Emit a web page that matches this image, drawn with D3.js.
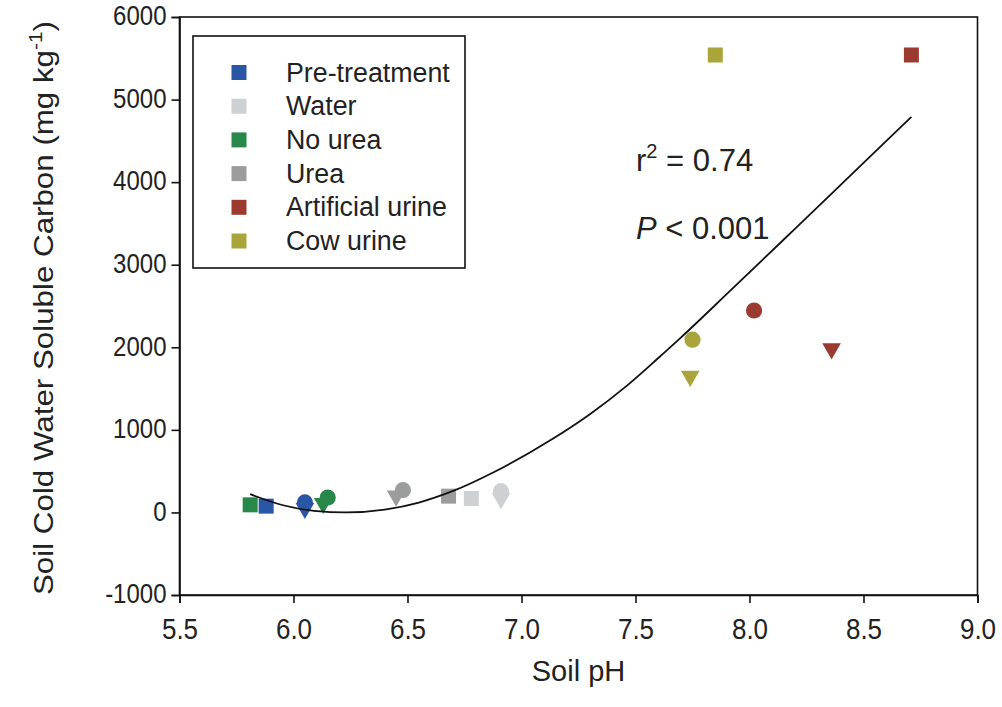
<!DOCTYPE html>
<html>
<head>
<meta charset="utf-8">
<script src="https://cdn.jsdelivr.net/npm/d3@7"></script>
<style>
  body { margin: 0; background: #fff; }
  svg text { font-family: "Liberation Sans", Arial, sans-serif; fill: #222; }
</style>
</head>
<body>
<div id="chart"></div>
<script>
// treatments, in legend order
let treatments = ["Pre-treatment", "Water", "No urea", "Urea", "Artificial urine", "Cow urine"];
let colors = ["#2a57a5", "#cdd1d4", "#27884a", "#9b9d9d", "#9b3b2f", "#a9a53b"];

// square markers
let squarePH = [5.88, 6.78, 5.81, 6.68, 8.71, 7.85];
let squareC = [76, 169, 92, 197, 5540, 5540];
// circle markers
let circlePH = [6.05, 6.91, 6.15, 6.48, 8.02, 7.75];
let circleC = [121, 258, 181, 270, 2446, 2092];
// down triangle markers
let trianglePH = [6.05, 6.91, 6.13, 6.45, 8.36, 7.74];
let triangleC = [50, 170, 110, 200, 1983, 1650];

// regression curve
let fitPH = [5.81, 5.95, 6.09, 6.23, 6.40, 6.55, 6.70, 6.88, 7.13, 7.30, 7.46, 7.60, 7.70, 7.91, 8.19, 8.45, 8.71];
let fitC = [221, 90, 20, 0, 35, 120, 260, 490, 880, 1190, 1530, 1870, 2120, 2670, 3410, 4100, 4790];

let xTicks = [5.5, 6.0, 6.5, 7.0, 7.5, 8.0, 8.5, 9.0];
let yTicks = [-1000, 0, 1000, 2000, 3000, 4000, 5000, 6000];

let width = 1002, height = 707;
let plotLeft = 179.5, plotRight = 977.5, plotTop = 17, plotBottom = 595;

let svg = d3.select('#chart')
    .append('svg')
    .attr('width', width)
    .attr('height', height);

let x = d3.scaleLinear().domain([5.5, 9.0]).range([plotLeft, plotRight]);
let y = d3.scaleLinear().domain([-1000, 6000]).range([plotBottom, plotTop]);

// frame
svg.append('rect')
    .attr('x', plotLeft)
    .attr('y', plotTop)
    .attr('width', plotRight - plotLeft)
    .attr('height', plotBottom - plotTop)
    .attr('fill', 'none')
    .attr('stroke', '#111')
    .attr('stroke-width', 1.6);

// axes
let xAxis = svg.append('g')
    .attr('transform', `translate(0,${plotBottom})`)
    .call(d3.axisBottom(x).tickValues(xTicks).tickFormat(d3.format('.1f')).tickSizeOuter(0).tickSize(8).tickPadding(10));

let yAxis = svg.append('g')
    .attr('transform', `translate(${plotLeft},0)`)
    .call(d3.axisLeft(y).tickValues(yTicks).tickFormat(d => d).tickSizeOuter(0).tickSize(8).tickPadding(5));

[xAxis, yAxis].forEach(g => {
    g.select('.domain').attr('stroke', '#111').attr('stroke-width', 1.6);
    g.selectAll('.tick line').attr('stroke', '#111').attr('stroke-width', 1.6);
    g.selectAll('.tick text')
        .attr('font-family', '"Liberation Sans", Arial, sans-serif')
        .attr('fill', '#222');
});

xAxis.selectAll('.tick text')
    .attr('font-size', 26)
    .attr('y', 21)
    .attr('transform', 'scale(1,1.12)');

yAxis.selectAll('.tick text')
    .attr('font-size', 24)
    .attr('transform', 'scale(1,1.15)')
    .attr('dy', '0.28em');

// axis titles
svg.append('text')
    .attr('x', (plotLeft + plotRight) / 2)
    .attr('y', 681)
    .attr('text-anchor', 'middle')
    .attr('font-size', 29)
    .text('Soil pH');

let yTitle = svg.append('text')
    .attr('transform', `translate(53,${(plotTop + plotBottom) / 2 + 2}) rotate(-90) scale(1.16,1)`)
    .attr('text-anchor', 'middle')
    .attr('font-size', 27);
yTitle.append('tspan').text('Soil Cold Water Soluble Carbon (mg kg');
yTitle.append('tspan').attr('dy', -11).attr('font-size', 18).text('-1');
yTitle.append('tspan').attr('dy', 11).text(')');

// markers
let sq = d3.symbol().type(d3.symbolSquare).size(225);
let ci = d3.symbol().type(d3.symbolCircle).size(205);
let tr = d3.symbol().type(d3.symbolTriangle).size(150);

svg.append('g').selectAll('path')
    .data(trianglePH)
    .join('path')
    .attr('d', tr)
    .attr('transform', (d, i) => `translate(${x(d)},${y(triangleC[i])}) rotate(180)`)
    .attr('fill', (d, i) => colors[i]);

svg.append('g').selectAll('path')
    .data(circlePH)
    .join('path')
    .attr('d', ci)
    .attr('transform', (d, i) => `translate(${x(d)},${y(circleC[i])})`)
    .attr('fill', (d, i) => colors[i]);

svg.append('g').selectAll('path')
    .data(squarePH)
    .join('path')
    .attr('d', sq)
    .attr('transform', (d, i) => `translate(${x(d)},${y(squareC[i])})`)
    .attr('fill', (d, i) => colors[i]);

// fitted curve
let line = d3.line()
    .x(d => x(d))
    .y((d, i) => y(fitC[i]))
    .curve(d3.curveMonotoneX);

svg.append('path')
    .datum(fitPH)
    .attr('d', line)
    .attr('fill', 'none')
    .attr('stroke', '#111')
    .attr('stroke-width', 1.8);

// stats text
let r2 = svg.append('text')
    .attr('x', 636)
    .attr('y', 171)
    .attr('font-size', 31);
r2.append('tspan').text('r');
r2.append('tspan').attr('dy', -13).attr('font-size', 20).text('2');
r2.append('tspan').attr('dy', 13).text(' = 0.74');

let pv = svg.append('text')
    .attr('x', 636)
    .attr('y', 239)
    .attr('font-size', 31);
pv.append('tspan').attr('font-style', 'italic').text('P');
pv.append('tspan').text(' < 0.001');

// legend
let legend = svg.append('g');
legend.append('rect')
    .attr('x', 193)
    .attr('y', 36)
    .attr('width', 272)
    .attr('height', 232)
    .attr('fill', '#fff')
    .attr('stroke', '#111')
    .attr('stroke-width', 1.6);

let items = legend.selectAll('g.item')
    .data(treatments)
    .join('g')
    .attr('class', 'item')
    .attr('transform', (d, i) => `translate(239,${72.5 + i * 33.7})`);

items.append('path')
    .attr('d', sq)
    .attr('fill', (d, i) => colors[i]);

items.append('text')
    .attr('x', 47)
    .attr('y', 9)
    .attr('font-size', 26.8)
    .text(d => d);
</script>
</body>
</html>
